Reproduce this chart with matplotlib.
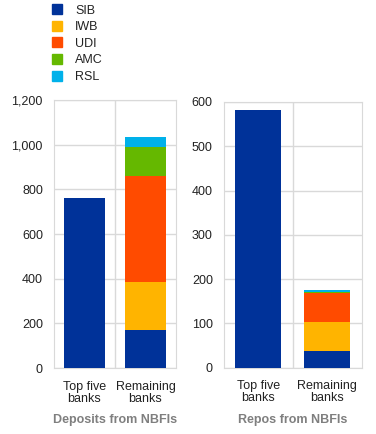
import matplotlib
matplotlib.use('Agg')
import matplotlib.pyplot as plt
from matplotlib.patches import Patch
from matplotlib.ticker import FuncFormatter

plt.rcParams['font.family'] = ['Liberation Sans', 'DejaVu Sans']

categories = ['Top five\nbanks', 'Remaining\nbanks']
series = ['SIB', 'IWB', 'UDI', 'AMC', 'RSL']
colors = ['#003299', '#ffb400', '#ff4b00', '#65b800', '#00b1ea']

# deposits from NBFIs, per category
dep_sib = [762, 170]
dep_iwb = [0, 215]
dep_udi = [0, 475]
dep_amc = [0, 128]
dep_rsl = [0, 46]

# repos from NBFIs
rep_sib = [582, 38]
rep_iwb = [0, 65]
rep_udi = [0, 66]
rep_amc = [0, 3]
rep_rsl = [0, 4]

grid_c = '#d9d9d9'
text_c = '#222222'
fs = 9

fig = plt.figure(figsize=(3.76, 4.34), dpi=100)
ax1 = fig.add_axes([0.1436, 0.152, 0.3245, 0.6176])
ax2 = fig.add_axes([0.5957, 0.1527, 0.3663, 0.6123])


def draw(ax, data, ymax, step, title, fmt):
    bottom = [0, 0]
    for vals, col in zip(data, colors):
        ax.bar(range(len(categories)), vals, bottom=bottom, width=0.67,
               color=col, zorder=3)
        bottom = [b + v for b, v in zip(bottom, vals)]
    ax.set_xlim(-0.5, 1.5)
    ax.set_ylim(0, ymax)
    ax.set_yticks(range(0, ymax + 1, step))
    ax.yaxis.set_major_formatter(FuncFormatter(fmt))
    ax.set_xticks(range(len(categories)))
    ax.set_xticklabels(categories, linespacing=1.0)
    ax.set_xticks([0.5], minor=True)
    ax.grid(axis='y', color=grid_c, lw=1, zorder=0)
    ax.grid(axis='x', which='minor', color=grid_c, lw=1, zorder=0)
    ax.tick_params(which='both', length=0, labelsize=fs, colors=text_c)
    ax.tick_params(axis='y', pad=8)
    ax.tick_params(axis='x', pad=9)
    for s in ax.spines.values():
        s.set_color(grid_c)
    ax.set_xlabel(title, fontsize=fs, fontweight='bold', color='#7f7f7f',
                  labelpad=7)


draw(ax1, [dep_sib, dep_iwb, dep_udi, dep_amc, dep_rsl], 1200, 200,
     'Deposits from NBFIs', lambda v, p: f'{int(v):,}')
draw(ax2, [rep_sib, rep_iwb, rep_udi, rep_amc, rep_rsl], 600, 100,
     'Repos from NBFIs', lambda v, p: f'{int(v)}')

handles = [Patch(color=c, label=s) for s, c in zip(series, colors)]
fig.legend(handles=handles, loc='upper left', bbox_to_anchor=(0.108, 1.016),
           frameon=False, fontsize=fs, handlelength=0.85, handleheight=0.85,
           handletextpad=1.0, labelspacing=0.34, labelcolor=text_c)

fig.savefig('out.png', dpi=100)
